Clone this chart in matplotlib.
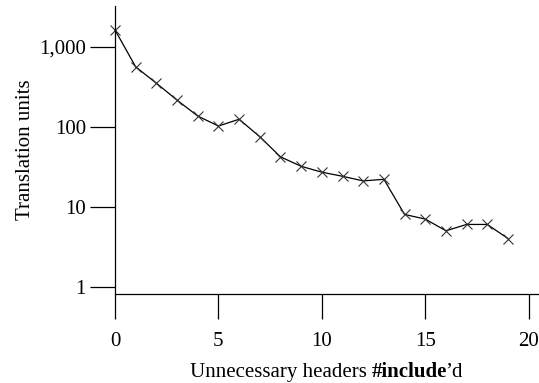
import matplotlib
matplotlib.use("Agg")
import matplotlib.pyplot as plt
from matplotlib.ticker import FixedLocator, FuncFormatter, NullLocator

plt.rcParams['font.family'] = ['Liberation Serif', 'DejaVu Serif']

# data
headers = list(range(20))
units = [1620, 560, 350, 215, 136, 102, 124, 75, 42, 32,
         27, 24, 21, 22, 8, 7, 5, 6, 6, 4]
x_ticks = [0, 5, 10, 15, 20]
y_ticks = [1, 10, 100, 1000]

fs = 15
fig = plt.figure(figsize=(5.39, 3.83), dpi=100)
ax = fig.add_axes([115 / 539, 1 - 294 / 383, 1 - 115 / 539, (294 - 6) / 383])

ax.plot(headers, units, color='black', lw=0.9, marker='x', ms=7,
        mew=0.8, mec='#333333', clip_on=False)

ax.set_yscale('log')
ax.set_xlim(0, 20.5)
ax.set_ylim(0.81, 3230)

ax.xaxis.set_major_locator(FixedLocator(x_ticks))
ax.yaxis.set_major_locator(FixedLocator(y_ticks))
ax.yaxis.set_minor_locator(NullLocator())
ax.yaxis.set_major_formatter(FuncFormatter(lambda v, p: f"{int(v):,}"))

for s in ['top', 'right']:
    ax.spines[s].set_visible(False)
for s in ['left', 'bottom']:
    ax.spines[s].set_linewidth(0.9)

ax.tick_params(axis='both', direction='out', length=18, width=0.9,
               labelsize=fs, pad=3, colors='black')
ax.tick_params(axis='x', pad=9)

ax.set_ylabel("Translation units", fontsize=fs)
ax.yaxis.set_label_coords((35 - 115) / 424, 0.5)

# x label with bold "#include", built from three pieces on one baseline
pieces = [("Unnecessary headers ", 'normal'), ("#include", 'bold'), ("’d", 'normal')]
base_y = 1 - 377 / 383
texts = [fig.text(0, base_y, s, fontsize=fs, fontweight=w, va='baseline')
         for s, w in pieces]
fig.canvas.draw()
r = fig.canvas.get_renderer()
widths = [t.get_window_extent(r).width for t in texts]
widths[1] -= 2  # close the gap before the apostrophe
x = 326 - sum(widths) / 2
for t, w in zip(texts, widths):
    t.set_x(x / 539)
    x += w

fig.savefig("out.png", dpi=100)
